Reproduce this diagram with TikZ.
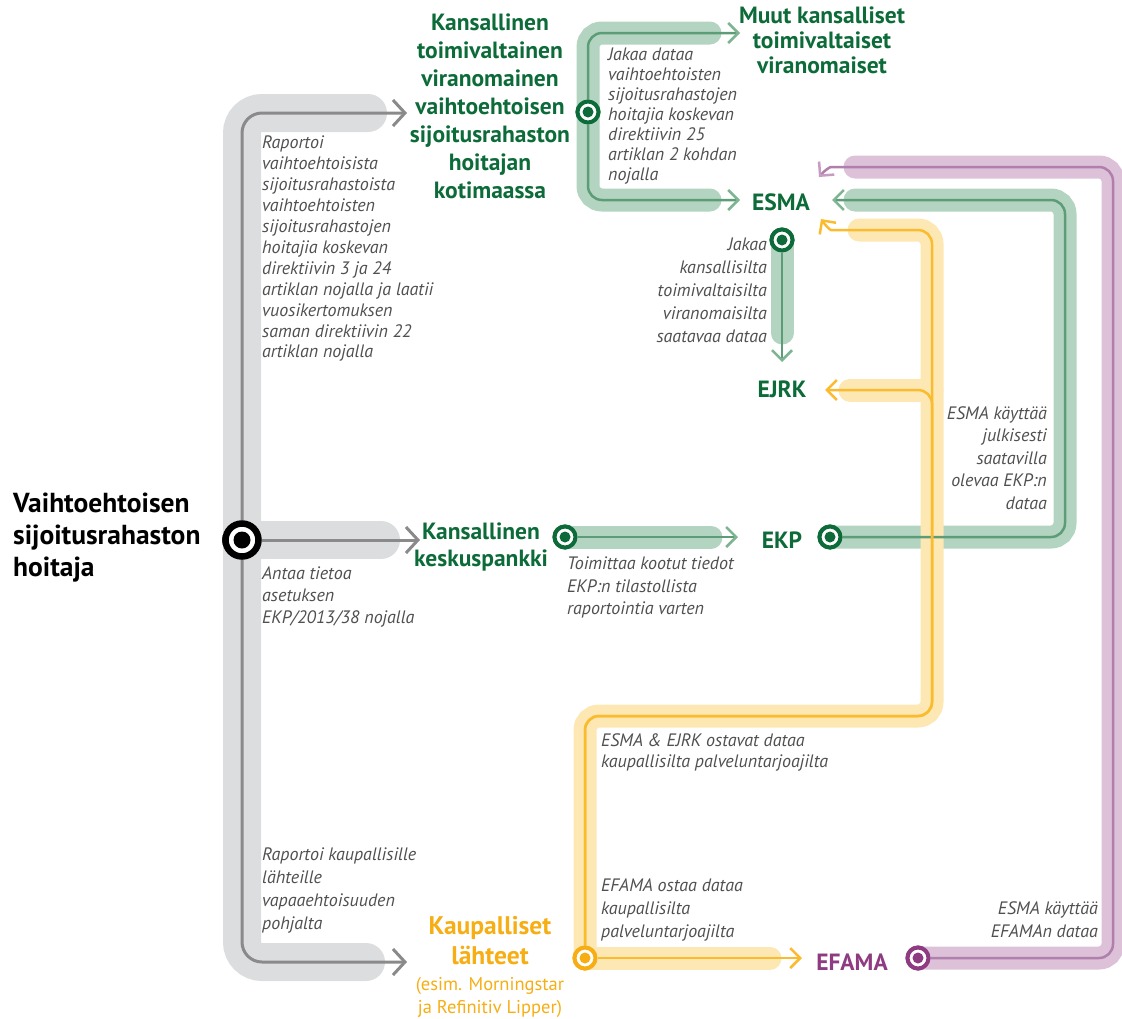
\documentclass[tikz,border=0pt]{standalone}
\usepackage{fontspec}
\setmainfont{PT Sans}
\usetikzlibrary{arrows.meta,positioning}
\definecolor{dkgreen}{HTML}{0C6B38}
\definecolor{bandgreen}{HTML}{B3D4C1}
\definecolor{linegreen}{HTML}{5C9C77}
\definecolor{tipgreen}{HTML}{7DB593}
\definecolor{bandgrey}{HTML}{DCDDDF}
\definecolor{linegrey}{HTML}{8A8A8C}
\definecolor{notegrey}{HTML}{505052}
\definecolor{dkpurple}{HTML}{8E3B81}
\definecolor{bandpurple}{HTML}{DCC1D9}
\definecolor{linepurple}{HTML}{B07FAB}
\definecolor{tippurple}{HTML}{C79BC2}
\definecolor{dkyellow}{HTML}{F6AE14}
\definecolor{bandyellow}{HTML}{FDE7B3}
\definecolor{lineyellow}{HTML}{FBBB2E}
\begin{document}
\begin{tikzpicture}[x=1pt,y=-1pt,
  greyband/.style={draw=bandgrey,line width=38pt,line cap=round,rounded corners=20pt},
  greyline/.style={draw=linegrey,line width=3pt,rounded corners=20pt,
    -{Straight Barb[length=12pt,width=26pt]}},
  band/.style={draw=#1,line width=23pt,line cap=round,rounded corners=14pt},
  thin/.style={draw=line#1,line width=2.5pt,rounded corners=14pt,
    -{Straight Barb[length=10pt,width=20pt,color=tip#1]}},
  hub/.style={circle,draw=#1,fill=white,line width=4pt,minimum size=21pt,inner sep=0pt,
    path picture={\fill[#1] (path picture bounding box.center) circle (5.5pt);}},
  bighub/.style={circle,draw=black,fill=white,line width=6.5pt,minimum size=33pt,inner sep=0pt,
    path picture={\fill[black] (path picture bounding box.center) circle (8.5pt);}},
  note/.style={font=\itshape\fontsize{18}{#1}\selectfont,text=notegrey,align=left,
    inner sep=0pt,anchor=north west},
  note/.default=22,
  noter/.style={note=#1,align=right,anchor=north east},
  title/.style={font=\bfseries\fontsize{23.5}{#1}\selectfont,text=dkgreen,align=center,inner sep=0pt},
  title/.default=28,
  ]
\useasboundingbox (0,0) rectangle (1122,1018);
% stations
\node[bighub] (hub) at (242,540) {};
\node[hub=dkgreen] (ncahub) at (588,112) {};
\node[hub=dkgreen] (esmahub) at (782,240) {};
\node[hub=dkgreen] (ncbhub) at (565,537) {};
\node[hub=dkgreen] (ekphub) at (830,537) {};
\node[hub=dkyellow] (kauphub) at (585,958) {};
\node[hub=dkpurple] (efamahub) at (918,958) {};
% arrow ends and corners
\coordinate (ncain) at (407,113);
\coordinate (ncbin) at (420,540);
\coordinate (kaupin) at (407,962);
\coordinate (muutin) at (740,33);
\coordinate (esmain) at (740,200);
\coordinate (ejrkin) at (782,362);
\coordinate (ekpin) at (738,537);
\coordinate (ekpcorner) at (1065,537);
\coordinate (esmaeast) at (832,200);
\coordinate (pcorner) at (1113,958);
\coordinate (pturn) at (845,167);
\coordinate (pend) at (855,167);
\coordinate (esmane) at (819,177);
\coordinate (ycross) at (932,716);
\coordinate (yturn) at (845,230);
\coordinate (yend) at (859,230);
\coordinate (esmase) at (821,219);
\coordinate (yjoin) at (932,390);
\coordinate (ejrkeast) at (825,390);
\coordinate (efamain) at (802,958);
% bands
\draw[greyband,shorten <=39pt,shorten >=41pt] (ncain) -| (hub.center) |- (kaupin);
\draw[greyband,shorten >=39pt] (hub.center) -- (ncbin);
\draw[band=bandgreen,shorten <=30pt,shorten >=30pt] (muutin) -| (ncahub.center) |- (esmain);
\draw[band=bandgreen,shorten >=29pt] (esmahub.center) -- (ejrkin);
\draw[band=bandgreen,shorten >=27pt] (ncbhub.center) -- (ekpin);
\draw[band=bandgreen,shorten >=23pt] (ekphub.center) -- (ekpcorner) |- (esmaeast);
\draw[band=bandpurple] (efamahub.center) -- (pcorner) |- (pend);
\draw[band=bandyellow] (kauphub.center) |- (ycross) |- (yend);
\draw[band=bandyellow,shorten >=25pt] (yjoin) -- (ejrkeast);
\draw[band=bandyellow,shorten >=32pt] (kauphub.center) -- (efamain);
% lines
\draw[greyline] (hub) |- (ncain);
\draw[greyline] (hub) -- (ncbin);
\draw[greyline] (hub) |- (kaupin);
\draw[thin=green] (ncahub) |- (muutin);
\draw[thin=green] (ncahub) |- (esmain);
\draw[thin=green] (esmahub) -- (ejrkin);
\draw[thin=green] (ncbhub) -- (ekpin);
\draw[thin=green] (ekphub) -- (ekpcorner) |- (esmaeast);
\draw[thin=purple] (efamahub) -- (pcorner) |- (pturn) .. controls (830,167) and (825,170) .. (esmane);
\draw[thin=yellow,-{Straight Barb[length=10pt,width=20pt,color=lineyellow]}]
  (kauphub) |- (ycross) |- (yturn) .. controls (830,230) and (826,226) .. (esmase);
\draw[thin=yellow,-{Straight Barb[length=10pt,width=20pt,color=lineyellow]}]
  (kauphub) |- (ycross) |- (ejrkeast);
\draw[thin=yellow,-{Straight Barb[length=10pt,width=20pt,color=lineyellow]}]
  (kauphub) -- (efamain);
% redraw stations on top
\node[bighub] at (hub) {};
\node[hub=dkgreen] at (ncahub) {};
\node[hub=dkgreen] at (esmahub) {};
\node[hub=dkgreen] at (ncbhub) {};
\node[hub=dkgreen] at (ekphub) {};
\node[hub=dkyellow] at (kauphub) {};
\node[hub=dkpurple] at (efamahub) {};
% names
\node[anchor=north west,inner sep=0pt,align=left,font=\bfseries\fontsize{27.5}{31.7}\selectfont] (avm)
  at (13,493) {Vaihtoehtoisen\\sijoitusrahaston\\hoitaja};
\node[title,anchor=north] (nca) at (490,14)
  {Kansallinen\\toimivaltainen\\viranomainen\\vaihtoehtoisen\\sijoitusrahaston\\hoitajan\\kotimaassa};
\node[title=25,anchor=north] (muut) at (822,7) {Muut kansalliset\\toimivaltaiset\\viranomaiset};
\node[title] (esma) at (781,202) {ESMA};
\node[title] (ejrk) at (782,389) {EJRK};
\node[title=27,anchor=north] (ncb) at (481,523) {Kansallinen\\keskuspankki};
\node[title] (ekp) at (782,540) {EKP};
\node[title,text=dkpurple] (efama) at (852,962) {EFAMA};
\node[title=30,text=dkyellow,anchor=north,font=\bfseries\fontsize{25.5}{30}\selectfont] (kaup)
  at (490,916) {Kaupalliset\\lähteet};
\node[below=12pt of kaup,inner sep=0pt,align=center,text=dkyellow,
  font=\fontsize{18.5}{23}\selectfont] (kaupsub) {(esim. Morningstar\\ja Refinitiv Lipper)};
% notes
\node[note=20.9] (rep) at (262,136) {Raportoi\\vaihtoehtoisista\\sijoitusrahastoista\\vaihtoehtoisten\\sijoitusrahastojen\\hoitajia koskevan\\direktiivin 3 ja 24\\artiklan nojalla ja laatii\\vuosikertomuksen\\saman direktiivin 22\\artiklan nojalla};
\node[note=20] (jakaa) at (608,48) {Jakaa dataa\\vaihtoehtoisten\\sijoitusrahastojen\\hoitajia koskevan\\direktiivin 25\\artiklan 2 kohdan\\nojalla};
\node[noter=22.8] (jakaa2) at (767,238) {Jakaa\\kansallisilta\\toimivaltaisilta\\viranomaisilta\\saatavaa dataa};
\node[note] (antaa) at (262,566) {Antaa tietoa\\asetuksen\\EKP/2013/38 nojalla};
\node[note=22.5] (toim) at (567,557) {Toimittaa kootut tiedot\\EKP:n tilastollista\\raportointia varten};
\node[noter=22.5] (julk) at (1047,406) {ESMA käyttää\\julkisesti\\saatavilla\\olevaa EKP:n\\dataa};
\node[note=21.5] (ostavat) at (601,733) {ESMA \& EJRK ostavat dataa\\kaupallisilta palveluntarjoajilta};
\node[note=23] (ostaa) at (601,878) {EFAMA ostaa dataa\\kaupallisilta\\palveluntarjoajilta};
\node[noter=23] (efdata) at (1098,901) {ESMA käyttää\\EFAMAn dataa};
\node[note=23] (repk) at (262,848) {Raportoi kaupallisille\\lähteille\\vapaaehtoisuuden\\pohjalta};
\end{tikzpicture}
\end{document}
